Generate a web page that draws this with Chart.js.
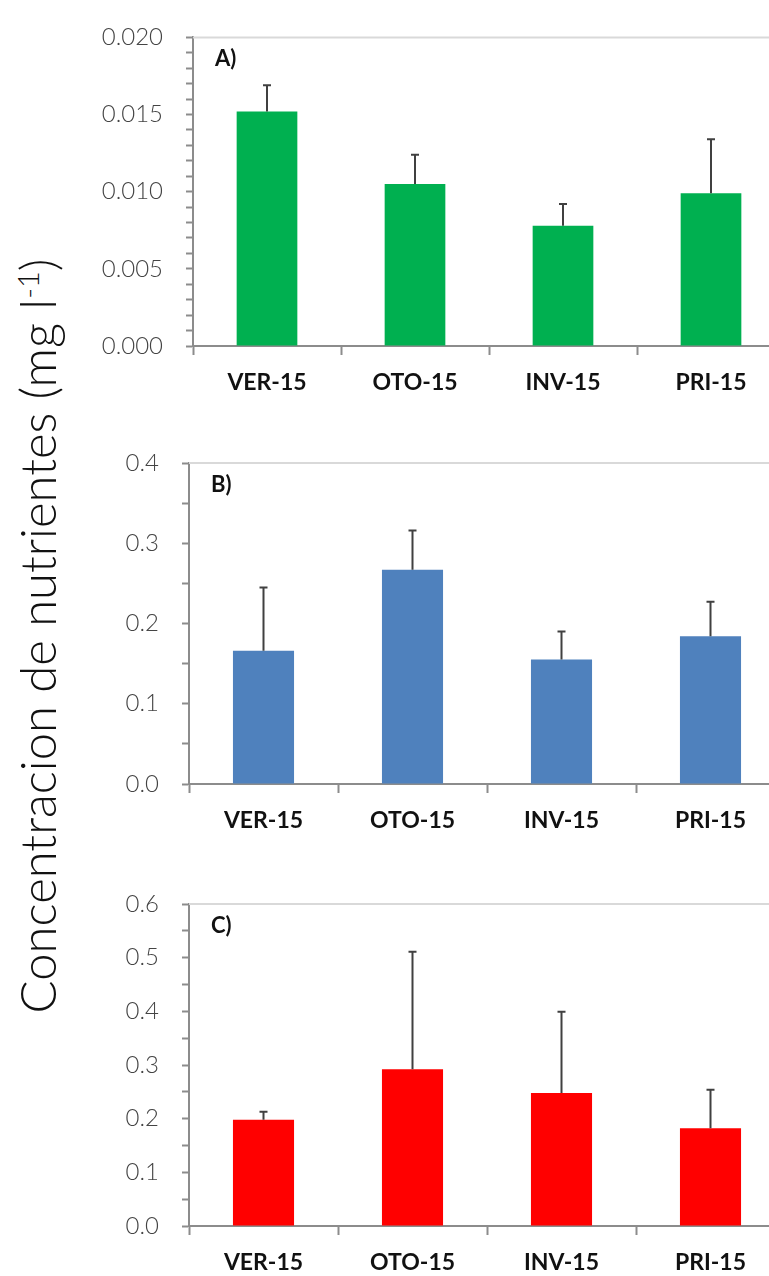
<!DOCTYPE html>
<html>
<head>
<meta charset="utf-8">
<script src="https://cdn.jsdelivr.net/npm/chart.js@4.4.0/dist/chart.umd.min.js"></script>
<style>
body { margin: 0; background: #fff; overflow: hidden; width: 769px; height: 1276px; position: relative; }
canvas { position: absolute; left: 0; }
#yTitle {
	position: absolute; left: 37px; top: 636px;
	transform: translate(-50%, -50%) rotate(-90deg);
	white-space: nowrap; font-family: Lato, sans-serif; font-weight: 300;
	font-size: 49px; color: #111;
}
#yTitle sup { font-size: 29px; }
</style>
</head>
<body>
<div id="yTitle">Concentracion de nutrientes (mg l<sup>-1</sup>)</div>
<canvas id="chartA" width="785" height="420" style="top:0px"></canvas>
<canvas id="chartB" width="785" height="430" style="top:420px"></canvas>
<canvas id="chartC" width="785" height="426" style="top:850px"></canvas>
<script>
var seasons = ['VER-15', 'OTO-15', 'INV-15', 'PRI-15'];

var meanA = [0.0152, 0.0105, 0.0078, 0.0099];
var errA = [0.0017, 0.0019, 0.0014, 0.0035];

var meanB = [0.166, 0.267, 0.155, 0.184];
var errB = [0.079, 0.049, 0.035, 0.043];

var meanC = [0.198, 0.292, 0.248, 0.182];
var errC = [0.015, 0.219, 0.151, 0.072];

var axisColor = '#8c8c8c';

// upper error bars + top frame line + panel letter
var panelExtras = {
	id: 'panelExtras',
	afterDatasetsDraw: function(chart, args, opts) {
		var ctx = chart.ctx;
		var area = chart.chartArea;
		var y = chart.scales.y;
		var meta = chart.getDatasetMeta(0);
		var ds = chart.data.datasets[0];

		ctx.save();
		ctx.strokeStyle = '#d9d9d9';
		ctx.lineWidth = 2;
		ctx.beginPath();
		ctx.moveTo(area.left, area.top);
		ctx.lineTo(area.right, area.top);
		ctx.stroke();

		ctx.strokeStyle = '#404040';
		ctx.lineWidth = 2;
		meta.data.forEach(function(bar, i) {
			var top = y.getPixelForValue(ds.data[i] + opts.errors[i]);
			ctx.beginPath();
			ctx.moveTo(bar.x, bar.y);
			ctx.lineTo(bar.x, top);
			ctx.moveTo(bar.x - 4, top);
			ctx.lineTo(bar.x + 4, top);
			ctx.stroke();
		});

		ctx.fillStyle = '#111';
		ctx.font = 'bold 22px Lato, sans-serif';
		ctx.textBaseline = 'middle';
		ctx.fillText(opts.letter, area.left + 22, area.top + 22);
		ctx.restore();
	}
};

function makePanel(id, values, errors, color, max, major, minor, digits, letter, top, xHeight) {
	return new Chart(document.getElementById(id), {
		type: 'bar',
		data: {
			labels: seasons,
			datasets: [{
				data: values,
				backgroundColor: color,
				barPercentage: 0.41,
				categoryPercentage: 1
			}]
		},
		plugins: [panelExtras],
		options: {
			responsive: false,
			animation: false,
			layout: { padding: { top: top, left: 0, right: 0, bottom: 0 } },
			plugins: {
				legend: { display: false },
				tooltip: { enabled: false },
				panelExtras: { errors: errors, letter: letter }
			},
			scales: {
				x: {
					grid: {
						offset: true, drawOnChartArea: false, drawTicks: true,
						tickLength: 9, tickWidth: 2, tickColor: axisColor
					},
					border: { color: axisColor, width: 2 },
					ticks: {
						padding: 14, color: '#111',
						font: { family: 'Lato, sans-serif', size: 23, weight: 'bold' }
					},
					afterFit: function(scale) { scale.height = xHeight; }
				},
				y: {
					min: 0, max: max,
					grid: {
						drawOnChartArea: false, drawTicks: true,
						tickLength: 7, tickWidth: 2, tickColor: axisColor
					},
					border: { color: axisColor, width: 2 },
					ticks: {
						stepSize: minor, autoSkip: false, padding: 23,
						color: '#444',
						font: { family: 'Lato, sans-serif', size: 24, weight: '300' },
						callback: function(v) {
							var r = v / major;
							if (Math.abs(r - Math.round(r)) < 1e-6) return v.toFixed(digits);
							return '';
						}
					},
					afterFit: function(scale) { scale.width = id == 'chartA' ? 193 : 189; }
				}
			}
		}
	});
}

makePanel('chartA', meanA, errA, '#00b050', 0.02, 0.005, 0.001, 3, 'A)', 25, 74);
makePanel('chartB', meanB, errB, '#4f81bd', 0.4, 0.1, 0.05, 1, 'B)', 43, 66);
makePanel('chartC', meanC, errC, '#ff0000', 0.6, 0.1, 0.05, 1, 'C)', 54, 50);
</script>
</body>
</html>
